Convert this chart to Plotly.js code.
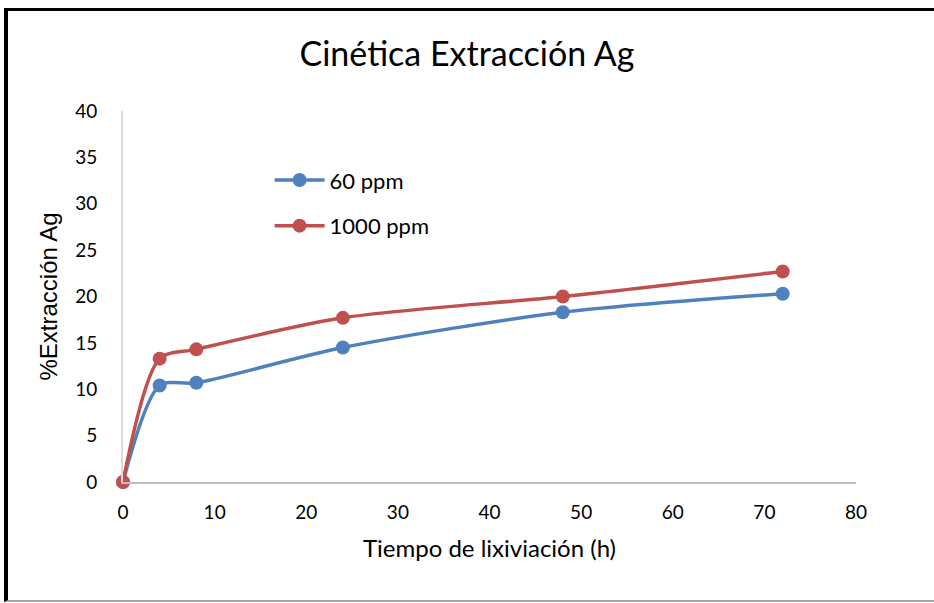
<!DOCTYPE html>
<html>
<head>
<meta charset="utf-8">
<script src="https://cdn.plot.ly/plotly-3.0.1.min.js"></script>
<style>
html,body{margin:0;padding:0;background:#fff;}
#chart{position:absolute;left:0;top:0;width:934px;height:603px;}
#frame{position:absolute;left:4px;top:8px;width:940px;height:589px;border-top:3px solid #000;border-left:4px solid #000;border-bottom:2px solid #a6a6a6;pointer-events:none;}
</style>
</head>
<body>
<div id="chart"></div>
<div id="frame"></div>
<script>
const hours = [0, 4, 8, 24, 48, 72];
const ppm60 = [0, 10.4, 10.7, 14.5, 18.3, 20.3];
const ppm1000 = [0, 13.3, 14.3, 17.7, 20.0, 22.7];
const seriesNames = ['60 ppm', '1000 ppm'];
const xTicks = [0, 10, 20, 30, 40, 50, 60, 70, 80];
const yTicks = [0, 5, 10, 15, 20, 25, 30, 35, 40];

const tickFont = {family: 'Lato, "Open Sans", sans-serif', size: 19, color: '#000'};

const traces = [
  {x: hours, y: ppm60, name: seriesNames[0], mode: 'lines+markers', legendgroup: 'a', cliponaxis: false,
   line: {color: '#4F81BD', width: 3.5, shape: 'spline', smoothing: 0.8},
   marker: {color: '#4F81BD', size: 14}},
  {x: hours, y: ppm1000, name: seriesNames[1], mode: 'lines+markers', legendgroup: 'b', cliponaxis: false,
   line: {color: '#C0504D', width: 3.5, shape: 'spline', smoothing: 0.8},
   marker: {color: '#C0504D', size: 14}}
];

const layout = {
  width: 934, height: 603,
  margin: {l: 123, r: 78, t: 111, b: 121},
  paper_bgcolor: '#fff', plot_bgcolor: '#fff',
  title: {text: 'Cinética Extracción Ag', x: 0.5, xref: 'container', y: 0.91, yref: 'container', yanchor: 'middle',
          font: {family: 'Lato, "Open Sans", sans-serif', size: 34, color: '#000'}},
  xaxis: {range: [0, 80], tickvals: xTicks, ticktext: xTicks.map(String), showgrid: false, zeroline: false,
          showline: true, linecolor: '#bfbfbf', linewidth: 2, ticks: '', tickfont: tickFont, ticklabelstandoff: 12,
          title: {text: 'Tiempo de lixiviación (h)', font: {family: 'Lato, "Open Sans", sans-serif', size: 24, color: '#000'}, standoff: 18}},
  yaxis: {range: [0, 40], tickvals: yTicks, ticktext: yTicks.map(String), showgrid: false, zeroline: false,
          showline: true, linecolor: '#d9d9d9', linewidth: 2, ticks: '', tickfont: tickFont, ticklabelstandoff: 20,
          title: {text: '%Extracción Ag', font: {family: '"Liberation Sans", Arial, sans-serif', size: 24, color: '#000'}, standoff: 11}},
  showlegend: true,
  legend: {x: 0.2, y: 0.87, xanchor: 'left', yanchor: 'top', bgcolor: 'rgba(0,0,0,0)',
           font: {family: 'Lato, "Open Sans", sans-serif', size: 22, color: '#000'},
           traceorder: 'grouped', tracegroupgap: 14, itemwidth: 50}
};

Plotly.newPlot('chart', traces, layout, {displayModeBar: false, staticPlot: true});
</script>
</body>
</html>
